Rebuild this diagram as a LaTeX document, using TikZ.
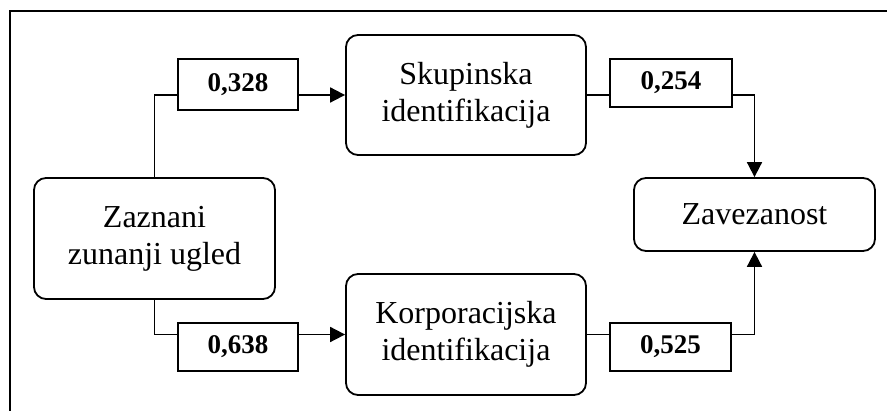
\documentclass[tikz,border=0pt]{standalone}
\usepackage{fontspec}
\setmainfont{Liberation Serif}
\usetikzlibrary{arrows.meta}
\begin{document}
\begin{tikzpicture}[x=1pt,y=-1pt,
  line width=1.8pt,
  concept/.style={draw, rounded corners=12pt, inner sep=0pt, align=center,
    font=\fontsize{32}{37}\selectfont},
  weight/.style={draw, fill=white, inner sep=0pt,
    font=\fontsize{27}{30}\selectfont\bfseries},
  link/.style={-{Triangle[length=15pt,width=15pt]}}]
\useasboundingbox (0,0) rectangle (887,411);
% outer frame
\draw (10,420) -- (10,11) -- (900,11);
% concept boxes
\node[concept, minimum width=241pt, minimum height=121pt] (zaz) at (154.5,238.5) {Zaznani\\zunanji ugled};
\node[concept, minimum width=240pt, minimum height=120pt] (sku) at (466,95) {Skupinska\\identifikacija};
\node[concept, minimum width=240pt, minimum height=121pt] (kor) at (466,334.5) {Korporacijska\\identifikacija};
\node[concept, minimum width=241pt, minimum height=73pt] (zav) at (754.5,214.5) {Zavezanost};
% path coefficients
\node[weight, minimum width=120pt, minimum height=51pt] (w1) at (238,84.5) {0,328};
\node[weight, minimum width=120pt, minimum height=48pt] (w2) at (238,347) {0,638};
\node[weight, minimum width=122pt, minimum height=48pt] (w3) at (671,83) {0,254};
\node[weight, minimum width=121pt, minimum height=48pt] (w4) at (670.5,347) {0,525};
% upper path
\draw (zaz.north) |- (w1.west |- sku.west);
\draw[link] (w1.east |- sku.west) -- (sku.west);
\draw (sku.east) -- (w3.west |- sku.east);
\draw[link] (w3.east |- sku.east) -| (zav.north);
% lower path
\draw (zaz.south) |- (w2.west |- kor.west);
\draw[link] (w2.east |- kor.west) -- (kor.west);
\draw (kor.east) -- (w4.west |- kor.east);
\draw[link] (w4.east |- kor.east) -| (zav.south);
\end{tikzpicture}
\end{document}
